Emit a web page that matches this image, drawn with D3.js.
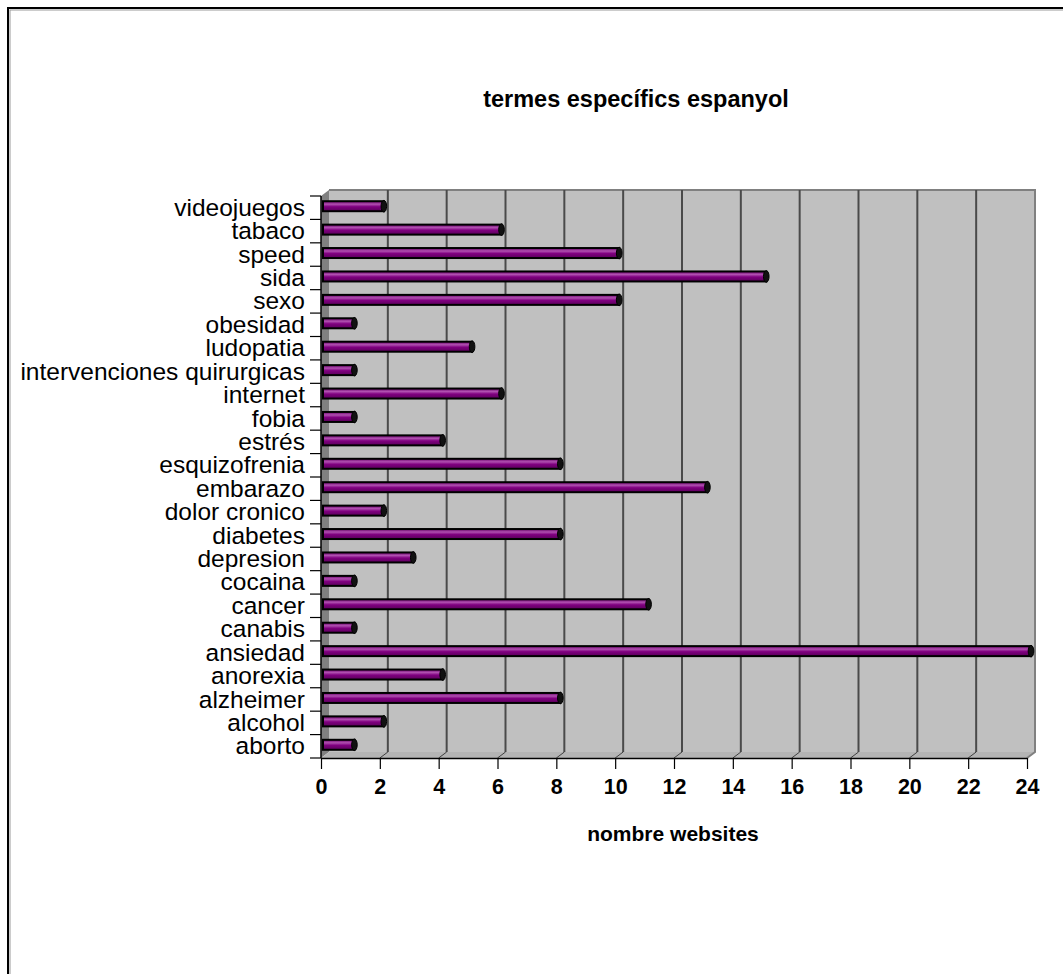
<!DOCTYPE html>
<html>
<head>
<meta charset="utf-8">
<script src="https://cdn.jsdelivr.net/npm/d3@7"></script>
<style>
  body { margin: 0; background: #fff; }
  svg { display: block; font-family: Arial, "Liberation Sans", sans-serif; }
</style>
</head>
<body>
<svg id="chart" width="1063" height="974"></svg>
<script>
// data, top to bottom as in the chart
var categories = ["videojuegos", "tabaco", "speed", "sida", "sexo", "obesidad", "ludopatia",
  "intervenciones quirurgicas", "internet", "fobia", "estrés", "esquizofrenia", "embarazo",
  "dolor cronico", "diabetes", "depresion", "cocaina", "cancer", "canabis", "ansiedad",
  "anorexia", "alzheimer", "alcohol", "aborto"];
var websites = [2, 6, 10, 15, 10, 1, 5, 1, 6, 1, 4, 8, 13, 2, 8, 3, 1, 11, 1, 24, 4, 8, 2, 1];
var xTicks = [0, 2, 4, 6, 8, 10, 12, 14, 16, 18, 20, 22, 24];
var chartTitle = "termes específics espanyol";
var xTitle = "nombre websites";

var data = categories.map(function(c, i){ return {name: c, value: websites[i]}; });

var svg = d3.select("#chart");

// outer frame
svg.append("rect")
  .attr("x", 10).attr("y", 10).attr("width", 1200).attr("height", 1200)
  .attr("fill", "none").attr("stroke", "#999").attr("stroke-width", 1);
svg.append("rect")
  .attr("x", 8).attr("y", 8).attr("width", 1200).attr("height", 1200)
  .attr("fill", "none").attr("stroke", "#000").attr("stroke-width", 2);

var plotLeft = 321, plotRight = 1027, plotTop = 196, plotBottom = 758;
var dx = 8, dy = -6;

var xScale = d3.scaleLinear().domain([0, 24]).range([plotLeft, plotRight]);
var yScale = d3.scaleBand().domain(categories).range([plotTop, plotBottom]);

// 3d walls
var walls = svg.append("g");
walls.append("rect")
  .attr("x", plotLeft + dx).attr("y", plotTop + dy)
  .attr("width", plotRight - plotLeft).attr("height", plotBottom - plotTop)
  .attr("fill", "#c0c0c0");
walls.append("polygon")
  .attr("points", [[plotLeft, plotTop], [plotLeft + dx, plotTop + dy],
                   [plotLeft + dx, plotBottom + dy], [plotLeft, plotBottom]].join(" "))
  .attr("fill", "#808080");
walls.append("polygon")
  .attr("points", [[plotLeft, plotBottom], [plotLeft + dx, plotBottom + dy],
                   [plotRight + dx, plotBottom + dy], [plotRight, plotBottom]].join(" "))
  .attr("fill", "#b4b4b4");
walls.append("path")
  .attr("d", "M" + (plotLeft + dx) + "," + (plotTop + dy) + "H" + (plotRight + dx) +
             "V" + (plotBottom + dy) + "L" + plotRight + "," + plotBottom)
  .attr("fill", "none").attr("stroke", "#808080").attr("stroke-width", 2);

// gridlines on the back wall
var inner = xTicks.filter(function(t){ return t > 0 && t < 24; });
walls.selectAll(".grid")
  .data(inner)
  .enter().append("line")
  .attr("class", "grid")
  .attr("x1", function(d){ return xScale(d) + dx; })
  .attr("x2", function(d){ return xScale(d) + dx; })
  .attr("y1", plotTop + dy).attr("y2", plotBottom + dy)
  .attr("stroke", "#4a4a4a").attr("stroke-width", 2);

// small slanted lines on the floor
walls.selectAll(".floortick")
  .data(inner)
  .enter().append("line")
  .attr("class", "floortick")
  .attr("x1", function(d){ return xScale(d); })
  .attr("x2", function(d){ return xScale(d) + dx; })
  .attr("y1", plotBottom).attr("y2", plotBottom + dy)
  .attr("stroke", "#404040").attr("stroke-width", 1);

// bar gradient (cylinder look)
var defs = svg.append("defs");
var grad = defs.append("linearGradient").attr("id", "cyl")
  .attr("x1", 0).attr("y1", 0).attr("x2", 0).attr("y2", 1);
grad.append("stop").attr("offset", "0%").attr("stop-color", "#6a006a");
grad.append("stop").attr("offset", "30%").attr("stop-color", "#b050b0");
grad.append("stop").attr("offset", "55%").attr("stop-color", "#800080");
grad.append("stop").attr("offset", "100%").attr("stop-color", "#5a005a");

var barH = 10;
var bars = svg.append("g").selectAll(".bar")
  .data(data).enter().append("g").attr("class", "bar");

bars.append("rect")
  .attr("x", xScale(0) + 2)
  .attr("y", function(d){ return yScale(d.name) + yScale.bandwidth() / 2 - 1.5 - barH / 2; })
  .attr("width", function(d){ return xScale(d.value) + dx / 2 - xScale(0) - 2; })
  .attr("height", barH)
  .attr("fill", "url(#cyl)")
  .attr("stroke", "#000").attr("stroke-width", 2);

bars.append("ellipse")
  .attr("cx", function(d){ return xScale(d.value) + dx / 2; })
  .attr("cy", function(d){ return yScale(d.name) + yScale.bandwidth() / 2 - 1.5; })
  .attr("rx", 2.8).attr("ry", barH / 2 + 0.8)
  .attr("fill", "#111").attr("stroke", "#000");

// axes
var yAxis = svg.append("g")
  .attr("transform", "translate(" + plotLeft + ",0)")
  .call(d3.axisLeft(yScale).tickSize(0).tickPadding(16));
yAxis.select(".domain").remove();
yAxis.selectAll("text")
  .attr("font-size", 24.5).attr("font-family", "Arial, 'Liberation Sans', sans-serif")
  .attr("dy", "0.33em")
  .attr("fill", "#000");

// boundary ticks on the category axis
var bounds = categories.map(function(c){ return yScale(c); }).concat([plotBottom]);
svg.append("g").selectAll("line")
  .data(bounds).enter().append("line")
  .attr("x1", plotLeft - 11).attr("x2", plotLeft)
  .attr("y1", function(d){ return d; }).attr("y2", function(d){ return d; })
  .attr("stroke", "#000").attr("stroke-width", 1.2);
svg.append("line")
  .attr("x1", plotLeft).attr("x2", plotLeft).attr("y1", plotTop).attr("y2", plotBottom)
  .attr("stroke", "#000").attr("stroke-width", 1.5);

var xAxis = svg.append("g")
  .attr("transform", "translate(0," + plotBottom + ")")
  .call(d3.axisBottom(xScale).tickValues(xTicks).tickSize(11).tickSizeOuter(0).tickPadding(10));
xAxis.select(".domain").attr("stroke-width", 1.5);
xAxis.selectAll(".tick line").attr("stroke-width", 1.2);
xAxis.selectAll("text")
  .attr("font-size", 21.5).attr("font-weight", "bold")
  .attr("font-family", "Arial, 'Liberation Sans', sans-serif")
  .attr("fill", "#000");

// titles
svg.append("text")
  .attr("x", 636).attr("y", 107)
  .attr("text-anchor", "middle")
  .attr("font-size", 23.5).attr("font-weight", "bold")
  .text(chartTitle);

svg.append("text")
  .attr("x", 673).attr("y", 841)
  .attr("text-anchor", "middle")
  .attr("font-size", 21).attr("font-weight", "bold")
  .text(xTitle);
</script>
</body>
</html>
